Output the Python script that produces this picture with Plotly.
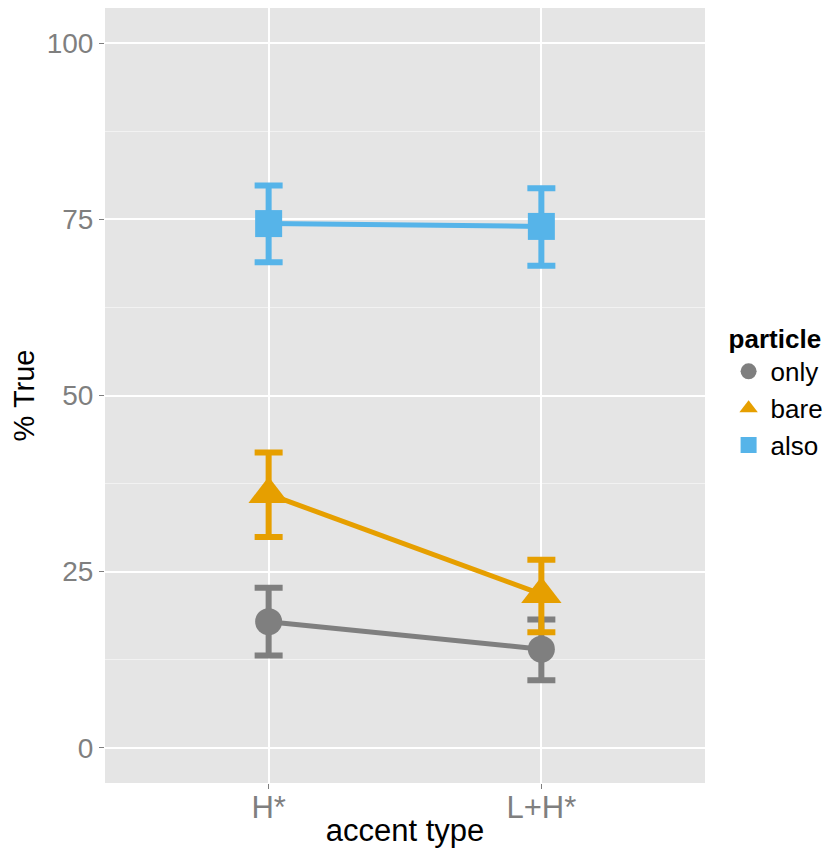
import plotly.graph_objects as go

categories = ["H*", "L+H*"]
particles = ["only", "bare", "also"]
means = {
    "only": [17.9, 14.0],
    "bare": [36.0, 21.8],
    "also": [74.4, 74.0],
}
upper = {
    "only": [22.7, 18.2],
    "bare": [41.9, 26.7],
    "also": [79.8, 79.4],
}
lower = {
    "only": [13.1, 9.6],
    "bare": [29.9, 16.4],
    "also": [68.9, 68.4],
}
colors = {"only": "#7F7F7F", "bare": "#E69F00", "also": "#56B4E9"}
symbols = {"only": "circle", "bare": "triangle-up", "also": "square"}
msize = {"only": 27, "bare": 35, "also": 27}
xpos = [1, 2]
y_ticks = [0, 25, 50, 75, 100]

fig = go.Figure()
for p in particles:
    m = means[p]
    fig.add_trace(go.Scatter(
        x=xpos, y=m, mode="lines+markers", showlegend=False,
        line=dict(color=colors[p], width=5),
        marker=dict(symbol=symbols[p], size=msize[p], color=colors[p]),
        error_y=dict(type="data", symmetric=False,
                     array=[u - v for u, v in zip(upper[p], m)],
                     arrayminus=[v - l for v, l in zip(m, lower[p])],
                     color=colors[p], thickness=6, width=14),
    ))
for p in particles:
    fig.add_trace(go.Scatter(
        x=[None], y=[None], mode="markers", name=p,
        marker=dict(symbol=symbols[p], size=30, color=colors[p]),
    ))

fig.update_layout(
    width=820, height=840,
    margin=dict(l=97, r=123, t=0, b=65, autoexpand=False),
    paper_bgcolor="white", plot_bgcolor="#E5E5E5",
    font=dict(family="Liberation Sans, Arial, sans-serif", color="black"),
    xaxis=dict(
        range=[0.4, 2.6], tickvals=xpos, ticktext=categories,
        showgrid=True, gridcolor="white", gridwidth=2,
        zeroline=False, ticks="outside", ticklen=5, tickcolor="#7F7F7F",
        tickfont=dict(size=31, color="#7F7F7F"), ticklabelstandoff=-8,
        automargin=False,
        title=dict(text="accent type", font=dict(size=31, color="black"), standoff=8),
    ),
    yaxis=dict(
        range=[-5, 105], tickvals=y_ticks,
        showgrid=True, gridcolor="white", gridwidth=2,
        minor=dict(dtick=12.5, tick0=12.5, showgrid=True, gridcolor="#F2F2F2", gridwidth=1),
        zeroline=False, ticks="outside", ticklen=5, tickcolor="#7F7F7F",
        tickfont=dict(size=28, color="#7F7F7F"),
        automargin=False,
        title=dict(text="% True", font=dict(size=29, color="black"), standoff=4),
    ),
    legend=dict(
        x=1.036, y=0.605, xanchor="left", yanchor="top",
        title=dict(text="<b>particle</b>", font=dict(size=26)),
        font=dict(size=26), bgcolor="white", itemsizing="trace",
        tracegroupgap=0, itemwidth=34,
    ),
)

fig.write_html("out.html")
